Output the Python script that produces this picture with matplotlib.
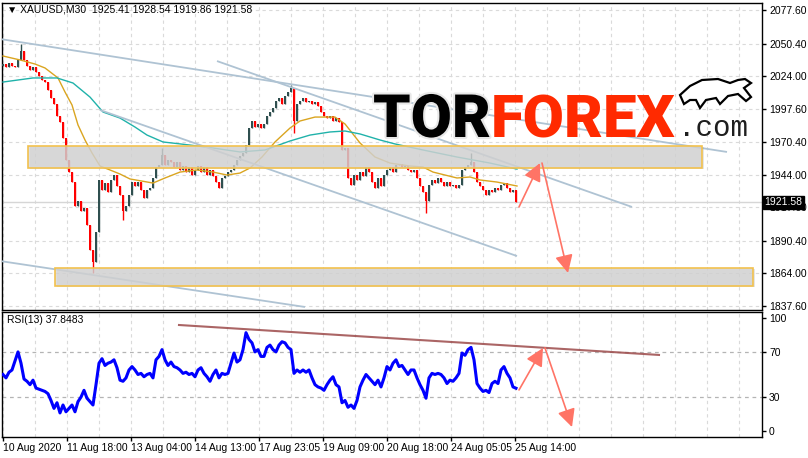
import numpy as np
import matplotlib
matplotlib.use("Agg")
import matplotlib.pyplot as plt
from matplotlib.patches import Rectangle, Polygon
import matplotlib.patheffects as pe
import matplotlib.transforms as mtransforms

plt.rcParams['font.family'] = ['Liberation Sans', 'DejaVu Sans']

# ---- data (one candle = 3 bars of M30, x in chart bar units) ----
first_open = 2032.0
closes = [
    2034, 2031, 2035, 2032, 2031, 2037, 2044, 2037, 2032, 2029,
    2031, 2027, 2024, 2021, 2019, 2013, 2006, 2001, 1992, 1987,
    1974, 1956, 1946, 1938, 1919, 1923, 1915, 1917, 1903, 1883,
    1873, 1898, 1940, 1932, 1937, 1930, 1940, 1944, 1935, 1928,
    1915, 1919, 1928, 1938, 1935, 1938, 1932, 1925, 1932, 1933,
    1941, 1950, 1952, 1960, 1952, 1956, 1954, 1950, 1954, 1948,
    1951, 1946, 1950, 1944, 1948, 1951, 1946, 1950, 1944, 1948,
    1943, 1938, 1933, 1941, 1943, 1946, 1948, 1952, 1956, 1959,
    1962, 1968, 1982, 1988, 1983, 1985, 1982, 1985, 1992, 1995,
    1998, 2004, 2006, 2001, 2008, 2011, 2014, 1988, 2001, 2004,
    2006, 2003, 2004, 2001, 2003, 2000, 1995, 1992, 1990, 1992,
    1988, 1990, 1987, 1964, 1966, 1941, 1936, 1944, 1940, 1946,
    1943, 1950, 1946, 1938, 1933, 1941, 1935, 1944, 1948, 1950,
    1946, 1952, 1953, 1950, 1951, 1948, 1946, 1948, 1941, 1935,
    1930, 1923, 1936, 1940, 1937, 1941, 1938, 1935, 1938, 1935,
    1936, 1933, 1936, 1948, 1950, 1952, 1954, 1946, 1938, 1935,
    1932, 1928, 1932, 1930, 1933, 1932, 1936, 1937, 1933, 1930,
    1932, 1921.58,
]
spike_x = [21, 93, 123, 162, 291, 294, 426, 471]
spike_price = [2050, 1864, 1907, 1966, 2017, 1978, 1913, 1962]

rsi = [
    50, 47, 52, 54, 62, 70, 60, 46, 44, 41,
    45, 38, 37, 36, 35, 33, 27, 20, 25, 16,
    23, 17, 20, 23, 17, 26, 30, 36, 29, 26,
    23, 41, 60, 64, 58, 60, 61, 63, 56, 45,
    44, 47, 54, 57, 54, 50, 51, 48, 50, 51,
    47, 63, 66, 72, 63, 58, 61, 57, 56, 54,
    51, 52, 50, 51, 48, 54, 56, 51, 48, 44,
    50, 54, 47, 51, 50, 51, 60, 69, 61, 63,
    72, 87, 81, 78, 70, 72, 66, 66, 74, 76,
    72, 70, 76, 79, 78, 74, 72, 51, 54, 52,
    54, 52, 54, 47, 41, 39, 38, 36, 41, 45,
    48, 41, 39, 25, 27, 21, 23, 20, 27, 39,
    45, 50, 47, 44, 41, 45, 39, 47, 57, 54,
    60, 63, 57, 58, 54, 50, 54, 54, 47, 41,
    36, 29, 47, 51, 50, 51, 50, 47, 42, 45,
    44, 47, 51, 69, 67, 72, 74, 63, 42, 38,
    35, 36, 34, 42, 44, 42, 54, 57, 51, 47,
    39, 37.8483,
]

ma_fast_x = [3, 20, 35, 45, 58, 65, 72, 78, 85, 92, 100, 110, 120, 130, 153, 165, 180,
             197, 213, 227, 240, 250, 262, 275, 290, 300, 315, 335, 345, 360, 375, 390,
             410, 423, 433, 457, 470, 480, 497, 517]
ma_fast = [2040.3, 2037.1, 2033.8, 2030.6, 2022.5, 2011.1, 2000.6, 1984.4, 1972.2, 1961.7,
           1951.1, 1947.9, 1944.6, 1940.6, 1937.3, 1941.4, 1946.2, 1947.9, 1946.2, 1943.8,
           1945.4, 1949.5, 1958.4, 1970.6, 1981.9, 1987.6, 1990.8, 1990.8, 1985.2, 1969.8,
           1958.4, 1953.5, 1951.1, 1950.3, 1946.2, 1941.4, 1942.2, 1939.8, 1938.1, 1934.9]
ma_slow_x = [3, 33, 57, 73, 90, 103, 120, 135, 147, 163, 190, 213, 240, 265, 290, 310, 330,
             345, 360, 380, 395, 423, 457, 490, 517]
ma_slow = [2019.2, 2022.5, 2022.5, 2018.4, 2007.0, 1994.9, 1990.0, 1982.7, 1976.2, 1970.6,
           1968.1, 1965.7, 1962.5, 1964.1, 1971.4, 1976.2, 1978.7, 1979.5, 1977.1, 1972.2,
           1969.0, 1964.1, 1958.4, 1953.5, 1948.6]

trend_lines = [((0, 2054.1), (727, 1962.5)),
               ((217, 2036.2), (632, 1917.9)),
               ((100, 1996.5), (517, 1878.1)),
               ((0, 1874.1), (305, 1836.8))]
zones = [((28, 1949.5), (702, 1967.3)),
         ((55, 1853.8), (753, 1868.4))]
forecast_price = [(519, 1917.9), (540, 1953.5), (568, 1864.4)]
forecast_rsi = [(519, 36.3), (543, 73.5), (572, 3.5)]
rsi_trend = ((179, 93.8), (659, 67.3))

last_price = 1921.58
price_ticks = [2077.60, 2050.40, 2024.00, 1997.60, 1970.40, 1944.00, 1917.60, 1890.40, 1864.00, 1837.60]
rsi_ticks = [100, 70, 30, 0]
time_tick_pos = [3, 67, 131, 195, 259, 323, 387, 451, 515]
time_labels = ["10 Aug 2020", "11 Aug 18:00", "13 Aug 04:00", "14 Aug 13:00", "17 Aug 23:05",
               "19 Aug 09:00", "20 Aug 18:00", "24 Aug 05:05", "25 Aug 14:00"]

# ---- figure ----
W, H = 808, 458
fig = plt.figure(figsize=(W / 100, H / 100), dpi=100)
ax = fig.add_axes([2 / W, 1 - 310 / H, 760 / W, 307 / H])
ax2 = fig.add_axes([2 / W, 1 - 437 / H, 760 / W, 125 / H])

for a in (ax, ax2):
    a.set_xlim(2, 762)
    for s in a.spines.values():
        s.set_color('black')
        s.set_linewidth(1)
    for gx in np.arange(3, 762, 32):
        a.axvline(gx, color='#DADADA', lw=0.8, dashes=(3, 3), zorder=0)

ax.set_ylim(1834.36, 2083.28)
ax2.set_ylim(-5.3, 105.3)

# candles
closes = np.array(closes, dtype=float)
opens = np.r_[first_open, closes[:-1]]
bar_x = 3 + 3 * np.arange(len(closes))
highs = np.maximum(opens, closes)
lows = np.minimum(opens, closes)
for sx, sp in zip(spike_x, spike_price):
    i = int(np.argmin(np.abs(bar_x - sx)))
    highs[i] = max(highs[i], sp)
    lows[i] = min(lows[i], sp)
cols = np.where(closes >= opens, '#2F4F4F', '#FF0000')
ax.vlines(bar_x, lows, highs, colors=cols, lw=1, zorder=3)
ax.bar(bar_x, closes - opens, bottom=opens, width=2.6, color=cols, linewidth=0, zorder=3)

# moving averages
ax.plot(ma_fast_x, ma_fast, color='#DAA520', lw=1, zorder=4)
ax.plot(ma_slow_x, ma_slow, color='#20B2AA', lw=1, zorder=4)

# trend lines
for (x0, y0), (x1, y1) in trend_lines:
    ax.plot([x0, x1], [y0, y1], color='#AFC3D3', lw=1.3, zorder=4, solid_capstyle='butt')

# horizontal grid + bid line
for p in price_ticks:
    ax.axhline(p, color='#DADADA', lw=0.8, dashes=(3, 3), zorder=0)
ax.axhline(last_price, color='#D6D6D6', lw=1, zorder=1)

# zones
for (x0, y0), (x1, y1) in zones:
    ax.add_patch(Rectangle((x0 + 1.5, y0 - 0.9), x1 - x0, y1 - y0, facecolor=(0.6, 0.6, 0.6, 0.25),
                           edgecolor='none', zorder=5))
    ax.add_patch(Rectangle((x0, y0), x1 - x0, y1 - y0, facecolor=(0.83, 0.83, 0.83, 0.78),
                           edgecolor='#F2C14E', lw=1.2, zorder=6))

# forecast arrows
arrow_kw = dict(arrowstyle='-|>,head_length=0.9,head_width=0.45', color='#FF7466', lw=1.2,
                shrinkA=0, shrinkB=0, mutation_scale=12)
for a, pts in ((ax, forecast_price), (ax2, forecast_rsi)):
    a.annotate('', xy=pts[1], xytext=pts[0], arrowprops=arrow_kw, zorder=8)
    a.annotate('', xy=pts[2], xytext=(pts[1][0] + 2, pts[1][1]), arrowprops=arrow_kw, zorder=8)

# axes ticks
ax.yaxis.tick_right()
ax.set_yticks(price_ticks)
ax.set_yticklabels([f"{p:.2f}" for p in price_ticks])
ax.tick_params(axis='y', length=3, width=1, labelsize=7.5, pad=2)
ax.set_xticks([])

trans = mtransforms.blended_transform_factory(ax.transAxes, ax.transData)
ax.text(1.003, last_price, f"{last_price:.2f}", transform=trans, color='white', fontsize=7.5,
        va='center', ha='left', zorder=10, clip_on=False,
        bbox=dict(boxstyle='square,pad=0.15', fc='black', ec='black'))

# RSI pane
ax2.plot(bar_x, rsi, color='#0000FF', lw=2.2, zorder=3)
for lv in (70, 30):
    ax2.axhline(lv, color='#B4B4B4', lw=0.9, dashes=(3, 3), zorder=0)
ax2.plot([rsi_trend[0][0], rsi_trend[1][0]], [rsi_trend[0][1], rsi_trend[1][1]],
         color='#9C4A4A', lw=1.5, alpha=0.85, zorder=4)
ax2.yaxis.tick_right()
ax2.set_yticks(rsi_ticks)
ax2.set_yticklabels([str(v) for v in rsi_ticks])
ax2.tick_params(axis='y', length=3, width=1, labelsize=7.5, pad=2)
ax2.set_xticks(time_tick_pos)
ax2.set_xticklabels(time_labels, ha='left')
ax2.tick_params(axis='x', length=3, width=1, labelsize=7.5, pad=1)

# header texts
fig.text(7 / W, 1 - 10 / H, "\u25bc XAUUSD,M30  1925.41 1928.54 1919.86 1921.58",
         fontsize=7.5, va='center', ha='left', family=['Liberation Sans', 'DejaVu Sans'])
fig.text(7 / W, 1 - 320 / H, "RSI(13) 37.8483", fontsize=7.5, va='center', ha='left')

# logo
renderer = fig.canvas.get_renderer()
t1 = fig.text(373 / W, 1 - 137 / H, "TOR", fontsize=43, fontweight='black', family='Roboto',
              color='black', va='baseline', ha='left', zorder=20,
              path_effects=[pe.withStroke(linewidth=3, foreground='#E8E8E8')])
bb = t1.get_window_extent(renderer=renderer)
t2 = fig.text(bb.x1 / W, 1 - 137 / H, "FOREX", fontsize=43, fontweight='black', family='Roboto',
              color='#FF2A00', va='baseline', ha='left', zorder=20)
bb2 = t2.get_window_extent(renderer=renderer)
fig.text((bb2.x1 + 2) / W, 1 - 136 / H, ".com", fontsize=21, family='Liberation Mono',
         color='#1E1E1E', va='baseline', ha='left', zorder=20)

# bull icon (decoration)
bull = [(680, 95), (690, 86), (702, 80), (718, 79), (730, 83), (738, 80), (745, 79), (751, 83),
        (744, 88), (751, 97), (746, 101), (738, 94), (728, 96), (720, 104), (716, 98), (706, 100),
        (700, 108), (696, 100), (690, 100), (684, 104)]
bull_fig = [(x / W, 1 - y / H) for x, y in bull]
fig.patches.append(Polygon(bull_fig, closed=True, transform=fig.transFigure, facecolor='white',
                           edgecolor='black', lw=1.6, zorder=20))

fig.savefig("out.png", dpi=100)
